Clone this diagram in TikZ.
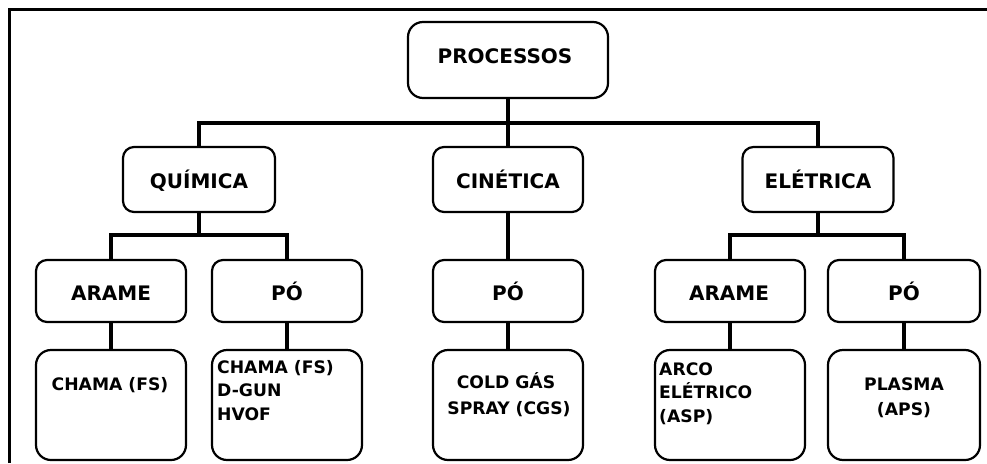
\documentclass[tikz,border=0pt]{standalone}
\usepackage{fontspec}
\setmainfont{DejaVu Sans}
\begin{document}
\begin{tikzpicture}[x=1pt,y=-1pt,
  box/.style={draw, rounded corners=11pt, line width=2.2pt, inner sep=0pt, fill=white, minimum width=150pt, minimum height=62pt},
  leafbox/.style={box, rounded corners=15pt, minimum height=110pt},
  conn/.style={line width=4pt},
  frameline/.style={line width=3pt},
  big/.style={font=\bfseries\fontsize{20}{23}\selectfont, anchor=base, inner sep=0pt},
  small/.style={font=\bfseries\fontsize{17.2}{23}\selectfont, anchor=base, inner sep=0pt},
  smallleft/.style={small, anchor=base west}]
\useasboundingbox (0,0) rectangle (987,463);
\fill[white] (0,0) rectangle (987,463);
\draw[frameline] (9.5,463) -- (9.5,9.5) -- (987,9.5);

% boxes
\node[box, minimum width=200pt, minimum height=76pt, rounded corners=15pt] (proc) at (508,60) {};
\node[box, minimum width=152pt, minimum height=65pt] (qui) at (199,179.5) {};
\node[box, minimum width=150pt, minimum height=65pt] (cin) at (508,179.5) {};
\node[box, minimum width=151pt, minimum height=65pt] (ele) at (818,179.5) {};

\node[box] (arq) at (111,291) {};
\node[box] (poq) at (287,291) {};
\node[box] (poc) at (508,291) {};
\node[box] (are) at (730,291) {};
\node[box, minimum width=152pt] (poe) at (904,291) {};

\node[leafbox] (l1) at (111,405) {};
\node[leafbox] (l2) at (287,405) {};
\node[leafbox] (l3) at (508,405) {};
\node[leafbox] (l4) at (730,405) {};
\node[leafbox, minimum width=152pt] (l5) at (904,405) {};

% connectors
\coordinate (b0) at (508,123);
\coordinate (b1) at (199,235);
\coordinate (b2) at (818,235);
\draw[conn] (proc.south) -- (b0);
\draw[conn] (qui.north) |- (b0) -| (ele.north);
\draw[conn] (b0) -- (cin.north);
\draw[conn] (qui.south) -- (b1);
\draw[conn] (arq.north) |- (b1) -| (poq.north);
\draw[conn] (ele.south) -- (b2);
\draw[conn] (are.north) |- (b2) -| (poe.north);
\draw[conn] (cin.south) -- (poc.north);
\draw[conn] (arq.south) -- (l1.north);
\draw[conn] (poq.south) -- (l2.north);
\draw[conn] (poc.south) -- (l3.north);
\draw[conn] (are.south) -- (l4.north);
\draw[conn] (poe.south) -- (l5.north);

% labels
\node[big] (tproc) at (505,63) {PROCESSOS};
\node[big] (tqui) at (199,188) {QUÍMICA};
\node[big] (tcin) at (508,188) {CINÉTICA};
\node[big] (tele) at (818,188) {ELÉTRICA};
\node[big] (tarq) at (111,300) {ARAME};
\node[big] (tpoq) at (287,300) {PÓ};
\node[big] (tpoc) at (508,300) {PÓ};
\node[big] (tare) at (729,300) {ARAME};
\node[big] (tpoe) at (904,300) {PÓ};

\node[small] (t1) at (110,390) {CHAMA (FS)};
\node[smallleft] (t2a) at (217,373) {CHAMA (FS)};
\node[smallleft] (t2b) at (217,396) {D-GUN};
\node[smallleft] (t2c) at (217,420) {HVOF};
\node[small] (t3a) at (506,388) {COLD GÁS};
\node[small] (t3b) at (509,414) {SPRAY (CGS)};
\node[smallleft] (t4a) at (659,375) {ARCO};
\node[smallleft] (t4b) at (659,398) {ELÉTRICO};
\node[smallleft] (t4c) at (659,422) {(ASP)};
\node[small] (t5a) at (904,390) {PLASMA};
\node[small] (t5b) at (904,415) {(APS)};
\end{tikzpicture}
\end{document}
